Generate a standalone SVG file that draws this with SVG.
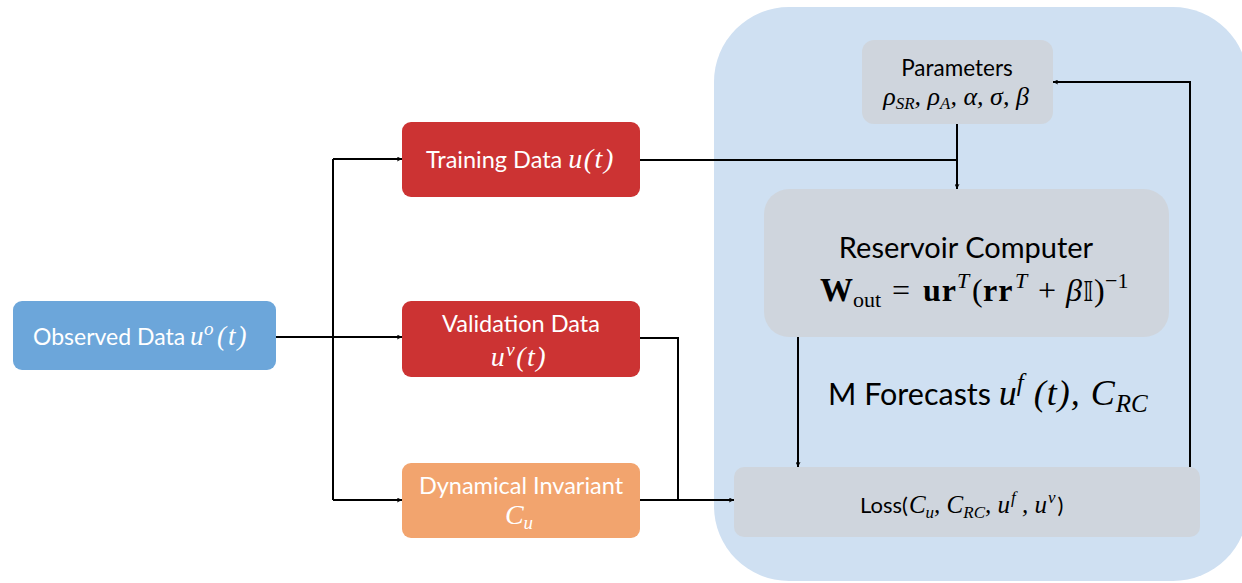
<svg xmlns="http://www.w3.org/2000/svg" width="1242" height="583" viewBox="0 0 1242 583">
<style>
.t{font-family:Lato,"Noto Sans",sans-serif;}
.m{font-family:"Liberation Serif","DejaVu Serif",serif;font-style:italic;}
.r{font-family:"Liberation Serif","DejaVu Serif",serif;}
.w{fill:#ffffff;}
.k{fill:#000000;}
.ln{fill:none;stroke:#000;stroke-width:2;}
.gray{fill:#cfd5dd;}
</style>
<defs>
<marker id="ah" viewBox="0 0 10 10" refX="10" refY="5" markerWidth="5" markerHeight="5" orient="auto" markerUnits="userSpaceOnUse">
<path d="M0,0 L10,5 L0,10 L2,5 z" fill="#000"/>
</marker>
</defs>
<rect x="0" y="0" width="1242" height="583" fill="#ffffff"/>
<g id="panel">
<rect x="714" y="7" width="534" height="574" rx="75" fill="#cfe0f2"/>
</g>
<g id="connectors">
<path class="ln" d="M276,337 H402" marker-end="url(#ah)"/>
<path class="ln" d="M333,159 V500"/>
<path class="ln" d="M333,159 H402" marker-end="url(#ah)"/>
<path class="ln" d="M333,500 H402" marker-end="url(#ah)"/>
<path class="ln" d="M640,160 H957"/>
<path class="ln" d="M957,124 V189" marker-end="url(#ah)"/>
<path class="ln" d="M640,338 H678 V500"/>
<path class="ln" d="M640,500 H734" marker-end="url(#ah)"/>
<path class="ln" d="M798,337 V467" marker-end="url(#ah)"/>
<path class="ln" d="M1190,467 V82 H1053" marker-end="url(#ah)"/>
</g>
<g id="observed">
<rect x="13" y="301" width="263" height="69" rx="9" fill="#6ca6da"/>
<text y="345" class="w"><tspan x="190" class="m" font-size="27">u</tspan><tspan x="204" class="m" font-size="19" dy="-10">o</tspan><tspan x="217" class="m" font-size="27" dy="10" letter-spacing="2">(t)</tspan><tspan x="33" class="t" font-size="23">Observed Data</tspan></text>
</g>
<g id="training">
<rect x="402" y="122" width="238" height="75" rx="9" fill="#cc3333"/>
<text x="426" y="168" font-size="23.5" class="w"><tspan class="t">Training Data </tspan><tspan class="m" font-size="28" letter-spacing="1.5">u(t)</tspan></text>
</g>
<g id="validation">
<rect x="402" y="301" width="238" height="76" rx="9" fill="#cc3333"/>
<text x="521" y="332" font-size="23.5" class="w t" text-anchor="middle">Validation Data</text>
<text x="519" y="366" font-size="28" class="w m" text-anchor="middle" letter-spacing="1.5">u<tspan font-size="19" dy="-10">v</tspan><tspan dy="10">(t)</tspan></text>
</g>
<g id="invariant">
<rect x="402" y="463" width="238" height="75" rx="9" fill="#f2a46e"/>
<text x="521" y="494" font-size="23.5" class="w t" text-anchor="middle">Dynamical Invariant</text>
<text x="519" y="524" font-size="28" class="w m" text-anchor="middle">C<tspan font-size="19" dy="5">u</tspan></text>
</g>
<g id="parameters">
<rect x="862" y="40" width="191" height="84" rx="12" class="gray"/>
<text x="957" y="76" font-size="22.5" class="k t" text-anchor="middle">Parameters</text>
<text x="956" y="105" font-size="26" class="k m" text-anchor="middle">ρ<tspan font-size="17" dy="4">SR</tspan><tspan dy="-4">, ρ</tspan><tspan font-size="17" dy="4">A</tspan><tspan dy="-4">, α, σ, β</tspan></text>
</g>
<g id="reservoir">
<rect x="764" y="189" width="405" height="148" rx="25" class="gray"/>
<text x="966" y="258" font-size="29" class="k t" text-anchor="middle">Reservoir Computer</text>
<text y="301" class="k r" font-size="32"><tspan x="820" font-weight="bold" font-size="33">W</tspan><tspan x="853" font-size="22" dy="6">out</tspan><tspan x="892" dy="-6">=</tspan><tspan x="923" font-weight="bold" letter-spacing="1">ur</tspan><tspan x="957" font-style="italic" font-size="22" dy="-13">T</tspan><tspan x="972" dy="13">(</tspan><tspan x="983" font-weight="bold" letter-spacing="1">rr</tspan><tspan x="1015" font-style="italic" font-size="22" dy="-13">T</tspan><tspan x="1038" dy="13">+</tspan><tspan x="1066" font-style="italic">β</tspan><tspan x="1083" font-family="'DejaVu Sans',sans-serif" font-size="27">𝕀</tspan><tspan x="1094">)</tspan><tspan x="1105" font-size="22" dy="-13">−1</tspan></text>
</g>
<g id="forecasts">
<text x="828" y="405" font-size="30.5" class="k"><tspan class="t">M Forecasts </tspan><tspan class="m" font-size="36">u</tspan><tspan class="m" font-size="25" dy="-14">f</tspan><tspan class="m" font-size="36" dy="14" letter-spacing="1"> (t), C</tspan><tspan class="m" font-size="25" dy="7">RC</tspan></text>
</g>
<g id="loss">
<rect x="734" y="467" width="466" height="70" rx="10" class="gray"/>
<text x="860" y="513" class="k"><tspan class="t" font-size="22">Loss(</tspan><tspan class="m" font-size="25" dx="1">C</tspan><tspan class="m" font-size="17" dy="5">u</tspan><tspan class="m" font-size="25" dy="-5">, C</tspan><tspan class="m" font-size="17" dy="5">RC</tspan><tspan class="m" font-size="25" dy="-5">, u</tspan><tspan class="m" font-size="17" dy="-10" dx="1">f</tspan><tspan class="m" font-size="25" dy="10"> , u</tspan><tspan class="m" font-size="17" dy="-10" dx="1">v</tspan><tspan class="t" font-size="22" dy="10" dx="2">)</tspan></text>
</g>
</svg>
